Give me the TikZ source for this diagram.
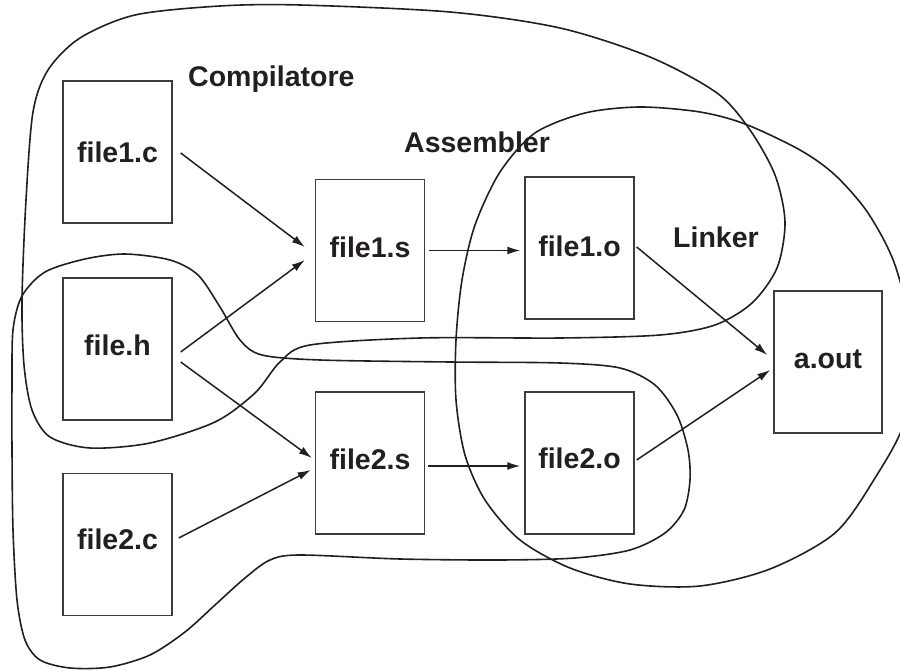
\documentclass[tikz,border=0pt]{standalone}
\usepackage{fontspec}
\setmainfont{Liberation Sans}
\usetikzlibrary{arrows.meta}
\definecolor{lc}{HTML}{231F20}
\definecolor{boxgray}{HTML}{3C3C3C}
\definecolor{txt}{HTML}{231F20}
\newcommand{\upby}[2]{\raisebox{#1}[\height][\depth]{#2}}
\begin{document}
\begin{tikzpicture}[x=1pt,y=-1pt,
  filebox/.style={draw=boxgray, line width=1.4pt, minimum width=109pt, minimum height=142pt,
    inner sep=0pt, font=\fontsize{28.5}{34}\selectfont\bfseries, text=txt},
  grouplbl/.style={anchor=base west, inner sep=0pt, font=\fontsize{28.5}{34}\selectfont\bfseries, text=txt},
  arr/.style={line width=1.5pt, draw=lc, -{Latex[length=13pt,width=8pt]}},
  blob/.style={line width=1.6pt, draw=lc}]
\useasboundingbox (0,0) rectangle (900,671);
\clip (0,0) rectangle (900,671);

% groups
\draw[blob] plot[smooth cycle] coordinates {(22,300) (26,200) (33,112) (48,70) (80,38) (135,15) (220,6) (300,5) (450,12) (560,28) (650,57) (717,93) (750,130) (775,175) (785,222) (777,268) (752,303) (715,325) (660,335) (560,338) (420,338) (310,345) (280,362) (255,393) (215,422) (150,443) (90,448) (50,437) (32,410) (24,365)};

\draw[blob] plot[smooth cycle] coordinates {(13,330) (22,296) (45,272) (85,259) (125,254) (170,260) (198,275) (220,307) (240,340) (262,355) (320,360) (450,362) (560,363) (620,368) (655,385) (677,415) (688,450) (690,480) (684,510) (665,533) (630,550) (575,558) (500,560) (400,559) (300,555) (270,560) (245,578) (215,605) (185,632) (150,655) (110,667) (70,668) (40,660) (25,640) (17,600) (13,530) (12,450) (12,385)};

\draw[blob] plot[smooth cycle] coordinates {(640,107) (700,112) (745,124) (800,150) (835,175) (868,213) (895,265) (912,340) (905,420) (875,478) (835,533) (770,569) (700,586) (630,584) (570,568) (520,540) (485,500) (465,455) (456,400) (456,340) (462,280) (475,225) (500,172) (535,133) (585,113)};

% labels
\node[grouplbl] (lcomp) at (188,87) {Compilatore};
\node[grouplbl] (lasm) at (404,153) {Assembler};
\node[grouplbl] (llink) at (673,248) {Linker};

% files
\node[filebox] (f1c) at (117.5,152) {file1.c};
\node[filebox] (fh) at (117.5,349) {\upby{4pt}{file.h}};
\node[filebox] (f2c) at (117.5,544.5) {\upby{5pt}{file2.c}};
\node[filebox] (f1s) at (370,250.5) {\upby{3.5pt}{file1.s}};
\node[filebox] (f2s) at (370,463) {\upby{4pt}{file2.s}};
\node[filebox] (f1o) at (579.5,248) {\upby{2pt}{file1.o}};
\node[filebox] (f2o) at (579.5,463) {\upby{5pt}{file2.o}};
\node[filebox, minimum width=108pt] (aout) at (828,362) {\upby{3pt}{a.out}};

% arrows
\draw[arr] ([xshift=8pt,yshift=-1pt]f1c.east) -- ([xshift=-10pt,yshift=3.5pt]f1s.west);
\draw[arr] ([xshift=8pt,yshift=-3pt]fh.east) -- ([xshift=-10pt,yshift=-9.5pt]f1s.west);
\draw[arr] ([xshift=8pt,yshift=-13pt]fh.east) -- ([xshift=-3pt,yshift=5pt]f2s.west);
\draw[arr] ([xshift=6pt,yshift=6.5pt]f2c.east) -- ([xshift=-4pt,yshift=-7pt]f2s.west);
\draw[arr] ([xshift=4pt]f1s.east) -- ([xshift=-4pt,yshift=-2.5pt]f1o.west);
\draw[arr] ([xshift=3pt,yshift=-3pt]f2s.east) -- ([xshift=-4pt,yshift=-3pt]f2o.west);
\draw[arr] ([xshift=2pt,yshift=1pt]f1o.east) -- ([xshift=-6pt,yshift=7pt]aout.west);
\draw[arr] ([xshift=2pt,yshift=3pt]f2o.east) -- ([xshift=-3pt,yshift=-8pt]aout.west);
\end{tikzpicture}
\end{document}
